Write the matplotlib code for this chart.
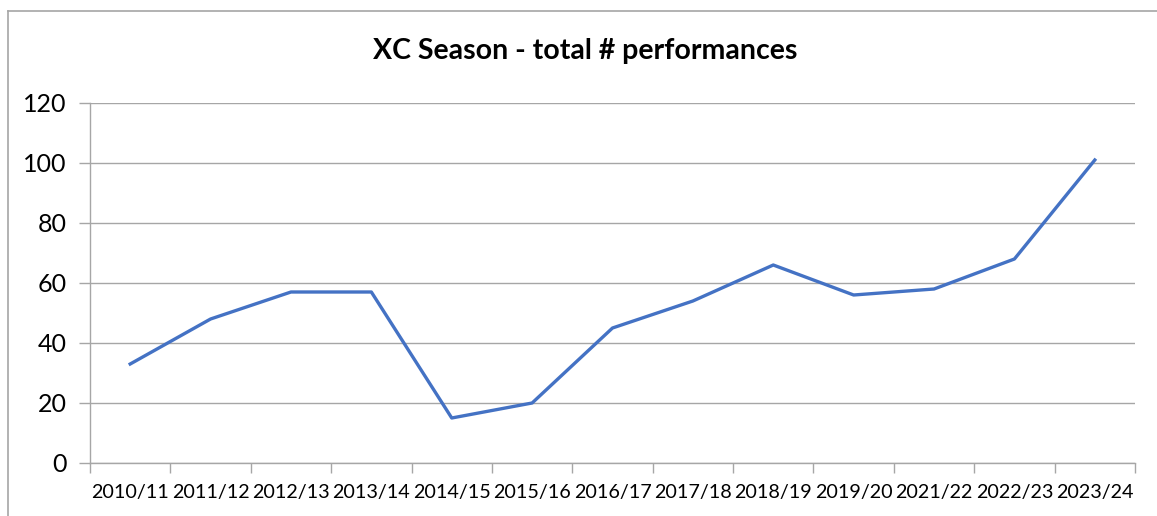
import matplotlib
matplotlib.use("Agg")
import matplotlib.pyplot as plt
from matplotlib.lines import Line2D
import numpy as np

seasons = ["2010/11", "2011/12", "2012/13", "2013/14", "2014/15", "2015/16", "2016/17",
           "2017/18", "2018/19", "2019/20", "2021/22", "2022/23", "2023/24"]
performances = [33, 48, 57, 57, 15, 20, 45, 54, 66, 56, 58, 68, 101]
yticks = [0, 20, 40, 60, 80, 100, 120]
title = "XC Season - total # performances"

plt.rcParams['font.family'] = ['Lato', 'DejaVu Sans']

W, H = 1157, 516
fig = plt.figure(figsize=(W / 100, H / 100), dpi=100)
ax = fig.add_axes([90 / W, (H - 463) / H, (1135 - 90) / W, (463 - 103) / H])

n = len(seasons)
x = np.arange(n) + 0.5
ax.plot(x, performances, color="#4472C4", lw=2.4, solid_joinstyle="round", zorder=3)

ax.set_xlim(0, n)
ax.set_ylim(0, 120)
ax.set_yticks(yticks)
ax.set_yticklabels([str(v) for v in yticks], fontsize=18)
ax.yaxis.grid(True, color="#A6A6A6", lw=1)
ax.set_axisbelow(True)

ax.set_xticks(np.arange(n + 1))
ax.set_xticklabels([])
ax.set_xticks(x, minor=True)
ax.set_xticklabels(seasons, minor=True, fontsize=14.2)
ax.tick_params(axis="x", which="minor", length=0, pad=15)
ax.tick_params(axis="x", which="major", length=7, color="#A6A6A6", width=1, direction="out")
ax.tick_params(axis="y", length=8, color="#A6A6A6", width=1, pad=9)

for s in ["top", "right"]:
    ax.spines[s].set_visible(False)
for s in ["left", "bottom"]:
    ax.spines[s].set_color("#A6A6A6")
    ax.spines[s].set_linewidth(1)

fig.text(585 / W, (H - 51) / H, title, ha="center", va="center",
         fontsize=20.5, fontweight="bold")

# outer chart frame (partially visible)
fig.add_artist(Line2D([7.5 / W, 7.5 / W], [0, (H - 10.5) / H], color="#A6A6A6", lw=1.2,
                      transform=fig.transFigure))
fig.add_artist(Line2D([7.5 / W, 1], [(H - 10.5) / H, (H - 10.5) / H], color="#A6A6A6", lw=1.2,
                      transform=fig.transFigure))

fig.savefig("out.png", dpi=100)
